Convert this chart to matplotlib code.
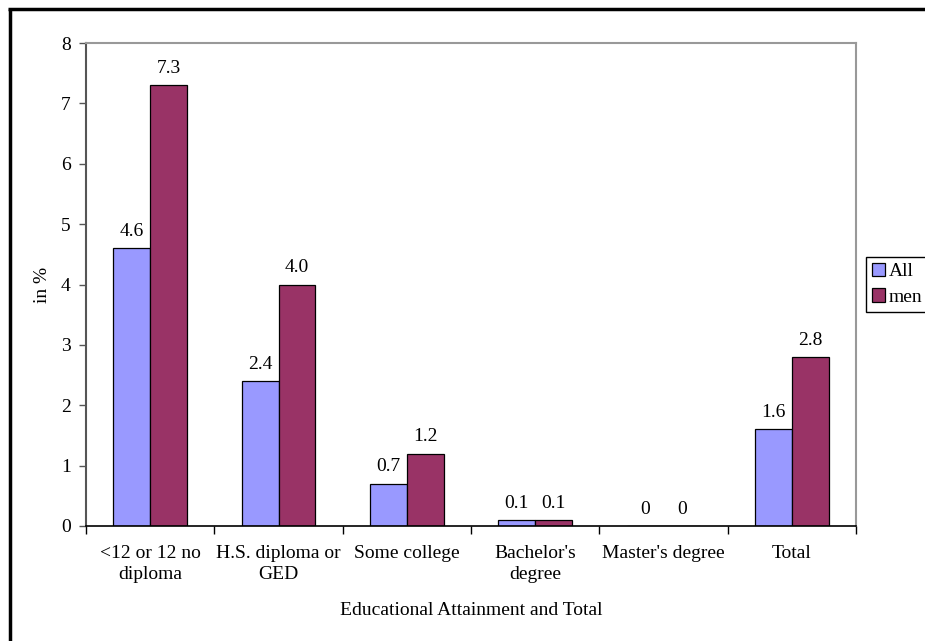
import numpy as np
import matplotlib.pyplot as plt
from matplotlib.lines import Line2D

categories = ["<12 or 12 no\ndiploma", "H.S. diploma or\nGED", "Some college",
              "Bachelor's\ndegree", "Master's degree", "Total"]
all_vals = [4.6, 2.4, 0.7, 0.1, 0.0, 1.6]
men_vals = [7.3, 4.0, 1.2, 0.1, 0.0, 2.8]
all_labels = ["4.6", "2.4", "0.7", "0.1", "0", "1.6"]
men_labels = ["7.3", "4.0", "1.2", "0.1", "0", "2.8"]

plt.rcParams["font.family"] = ["Liberation Serif", "DejaVu Serif"]
plt.rcParams["font.size"] = 14

fig = plt.figure(figsize=(9.25, 6.41), dpi=100)
ax = fig.add_axes([86 / 925, 1 - 526 / 641, 770 / 925, 483 / 641])

x = np.arange(len(categories))
w = 0.288
b1 = ax.bar(x - w / 2, all_vals, w, color="#9999FF", edgecolor="black", linewidth=0.9, label="All")
b2 = ax.bar(x + w / 2, men_vals, w, color="#993366", edgecolor="black", linewidth=0.9, label="men")

for rect, txt in zip(b1, all_labels):
    ax.annotate(txt, (rect.get_x() + rect.get_width() / 2, rect.get_height()),
                xytext=(0, 6), textcoords="offset points", ha="center", va="bottom")
for rect, txt in zip(b2, men_labels):
    ax.annotate(txt, (rect.get_x() + rect.get_width() / 2, rect.get_height()),
                xytext=(0, 6), textcoords="offset points", ha="center", va="bottom")

ax.set_xlim(-0.5, len(categories) - 0.5)
ax.set_ylim(0, 8)
ax.set_yticks(range(0, 9))
ax.set_xticks(x)
ax.set_xticklabels(categories, linespacing=1.25)
ax.set_xticks(np.arange(-0.5, len(categories)), minor=True)
ax.tick_params(axis="x", which="major", length=0, pad=14)
ax.tick_params(axis="x", which="minor", length=6, color="black", width=1)
ax.tick_params(axis="y", length=5, width=1, color="#555555", pad=6)

ax.spines["left"].set_color("#555555")
ax.spines["left"].set_linewidth(1.5)
ax.spines["bottom"].set_color("black")
ax.spines["bottom"].set_linewidth(1.2)
for s in ("top", "right"):
    ax.spines[s].set_color("#999999")
    ax.spines[s].set_linewidth(1.5)

ax.set_ylabel("in %", labelpad=7)
ax.set_xlabel("Educational Attainment and Total", labelpad=14)

fig.legend(handles=[b1, b2], loc="upper left", bbox_to_anchor=(866 / 925, 1 - 257 / 641),
           frameon=True, fancybox=False, edgecolor="black", framealpha=1,
           handlelength=0.7, handleheight=0.7, handletextpad=0.15, borderpad=0.3,
           labelspacing=0.4, borderaxespad=0)

# outer frame (left and top edges)
fig.add_artist(Line2D([9.5 / 925, 9.5 / 925], [0, 1 - 8.5 / 641], color="black", lw=2.5,
                      transform=fig.transFigure, solid_capstyle="butt"))
fig.add_artist(Line2D([8.3 / 925, 1], [1 - 8.5 / 641, 1 - 8.5 / 641], color="black", lw=2.5,
                      transform=fig.transFigure, solid_capstyle="butt"))

fig.savefig("out.png", dpi=100)
